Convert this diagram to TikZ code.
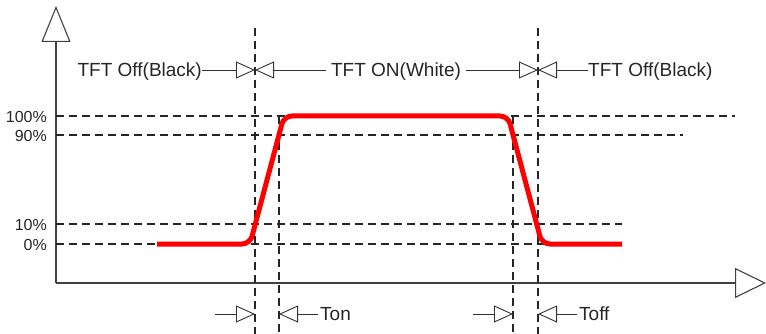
\documentclass[tikz,border=0pt]{standalone}
\usepackage{fontspec}
\setmainfont{Liberation Sans}
\usetikzlibrary{arrows.meta}
\begin{document}
\begin{tikzpicture}[x=1pt,y=-1pt,
    axis/.style={line width=1.1pt,black!75},
    guide/.style={dash pattern=on 8pt off 5pt,line width=1.1pt,black!85},
    dim/.style={line width=0.9pt,black!80,-{Triangle[open,length=19pt,width=17pt]}},
    lbl/.style={inner sep=0pt,text height=13.6pt,text depth=0pt,black!85,font=\fontsize{19}{22}\selectfont},
    pct/.style={anchor=east,inner sep=0pt,text height=11.5pt,text depth=0pt,black!85,font=\fontsize{16}{18}\selectfont},
    signal/.style={red,line width=5pt,rounded corners=8pt}]
  \useasboundingbox (0,0) rectangle (766,334);
  % axes
  \coordinate (O) at (56,283);
  \coordinate (Y) at (56,6);
  \coordinate (X) at (766,283);
  \draw[axis,-{Triangle[open,length=36pt,width=29pt]}] (O) -- (Y);
  \draw[axis,-{Triangle[open,length=31pt,width=30pt]}] (O) -- (X);
  % levels
  \node[pct] (p100) at (47,117) {100\%};
  \node[pct] (p90) at (47,136) {90\%};
  \node[pct] (p10) at (47,225) {10\%};
  \node[pct] (p0) at (47,245) {0\%};
  \draw[guide] (56,116) -- (735,116);
  \draw[guide] (56,135) -- (683,135);
  \draw[guide] (56,224) -- (622,224);
  \draw[guide] (56,244) -- (622,244);
  % time marks
  \draw[guide] (255,28) -- (255,334);
  \draw[guide] (279,116) -- (279,334);
  \draw[guide] (513,116) -- (513,334);
  \draw[guide] (538,28) -- (538,334);
  % response
  \draw[signal] (157,244) -- (250,244) -- (284,116) -- (508,116) -- (542,244) -- (622,244);
  % states
  \coordinate (t1) at (255,70);
  \coordinate (t2) at (538,70);
  \node[lbl,anchor=east] (off1) at (202,70) {TFT Off(Black)};
  \node[lbl,inner xsep=5pt] (on) at (396,70) {TFT ON(White)};
  \node[lbl,anchor=west] (off2) at (588,70) {TFT Off(Black)};
  \draw[dim] (off1.east) -- (t1);
  \draw[dim] (on.west) -- (t1);
  \draw[dim] (on.east) -- (t2);
  \draw[dim] (off2.west) -- (t2);
  % response times
  \coordinate (b0) at (215,314);
  \coordinate (b1) at (255,314);
  \coordinate (b2) at (279,314);
  \coordinate (b3) at (473,314);
  \coordinate (b4) at (513,314);
  \coordinate (b5) at (538,314);
  \node[lbl,anchor=west,inner xsep=2pt] (ton) at (318,314) {Ton};
  \node[lbl,anchor=west,inner xsep=2pt] (toff) at (577,314) {Toff};
  \draw[dim] (b0) -- (b1);
  \draw[dim] (ton.west) -- (b2);
  \draw[dim] (b3) -- (b4);
  \draw[dim] (toff.west) -- (b5);
\end{tikzpicture}
\end{document}
